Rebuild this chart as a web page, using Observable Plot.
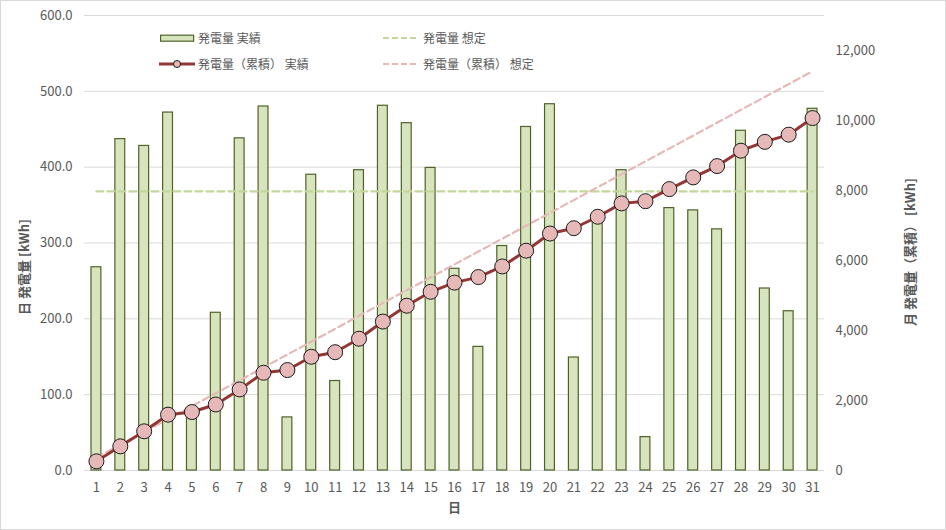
<!DOCTYPE html>
<html>
<head>
<meta charset="utf-8">
<script src="https://cdn.jsdelivr.net/npm/d3@7"></script>
<script src="https://cdn.jsdelivr.net/npm/@observablehq/plot@0.6"></script>
<style>
  body { margin: 0; background: #fff; }
  #wrap { position: relative; width: 946px; height: 530px; background: #fff; overflow: hidden; }
  #frame { position: absolute; left: 0; top: 0; width: 946px; height: 530px; box-sizing: border-box; border: 1px solid #d9d9d9; pointer-events: none; }
  .lg { position: absolute; font-family: "Noto Sans CJK JP", sans-serif; font-size: 12px; color: #595959; white-space: nowrap; line-height: 16px; }
  .lg svg { position: absolute; left: 0; top: 0; }
  .lg span { position: absolute; top: 0; }
</style>
</head>
<body>
<div id="wrap"><div id="frame"></div></div>
<script>
// ---- data ----
const days = [1,2,3,4,5,6,7,8,9,10,11,12,13,14,15,16,17,18,19,20,21,22,23,24,25,26,27,28,29,30,31];
const dailyActual = [268,437,428,472,72,208,438,480,70,390,118,396,481,458,399,266,163,296,453,483,149,334,396,44,346,343,318,448,240,210,477];
const cumulativeActual = [262,690,1120,1595,1670,1886,2316,2793,2870,3250,3380,3765,4255,4708,5105,5368,5526,5830,6280,6770,6922,7250,7632,7695,8040,8375,8698,9138,9390,9595,10070];
const dailyExpected = 368;
const cumExpectedDays = [1, 31];
const cumExpectedValues = [368, 11408];
const leftTicks = [0,100,200,300,400,500,600];
const rightTicks = [0,2000,4000,6000,8000,10000,12000];
const leftMax = 600, rightMax = 13000;
const ratio = leftMax / rightMax;

const dailyData = days.map((d, i) => ({day: d, value: dailyActual[i]}));
const cumData = days.map((d, i) => ({day: d, value: cumulativeActual[i]}));
const dailyExpData = [{day: days[0], value: dailyExpected}, {day: days[days.length - 1], value: dailyExpected}];
const cumExpData = cumExpectedDays.map((d, i) => ({day: d, value: cumExpectedValues[i]}));

const font = '"Noto Sans CJK JP", sans-serif';

const chart = Plot.plot({
  width: 946,
  height: 530,
  marginLeft: 84,
  marginRight: 122,
  marginTop: 15,
  marginBottom: 60,
  style: {fontFamily: font, fontSize: "13px", color: "#595959", background: "transparent", overflow: "visible"},
  x: {type: "linear", domain: [0.5, 31.5]},
  y: {domain: [0, leftMax]},
  marks: [
    Plot.ruleY(leftTicks, {stroke: "#d9d9d9", strokeWidth: 1}),
    Plot.rectY(dailyData, {
      x1: d => d.day - 0.5, x2: d => d.day + 0.5, y: "value",
      insetLeft: 7, insetRight: 7,
      fill: "#d7e4bd", stroke: "#4f6228", strokeWidth: 1.2
    }),
    Plot.line(dailyExpData, {x: "day", y: "value", stroke: "#c3d69b", strokeWidth: 2.2, strokeDasharray: "7,4"}),
    Plot.line(cumExpData, {x: "day", y: d => d.value * ratio, stroke: "#e6b9b8", strokeWidth: 2.2, strokeDasharray: "7,4"}),
    Plot.line(cumData, {x: "day", y: d => d.value * ratio, stroke: "#943634", strokeWidth: 3}),
    Plot.dot(cumData, {x: "day", y: d => d.value * ratio, r: 7.5, fill: "#e6b9b8", stroke: "#1a1a1a", strokeWidth: 1}),
    Plot.axisY(leftTicks, {anchor: "left", tickSize: 0, tickPadding: 12, tickFormat: d3.format(".1f"), label: null}),
    Plot.axisY(rightTicks.map(v => v * ratio), {anchor: "right", tickSize: 0, tickPadding: 11, tickFormat: v => d3.format(",")(Math.round(v / ratio)), label: null}),
    Plot.axisX(days, {anchor: "bottom", tickSize: 0, tickPadding: 12, tickFormat: d => String(d), label: null}),
    Plot.text(["日 発電量 [kWh]"], {frameAnchor: "left", textAnchor: "middle", rotate: -90, dx: -60, dy: 24, fontWeight: "bold", fontSize: 13, fill: "#595959"}),
    Plot.text(["月 発電量（累積） [kWh]"], {frameAnchor: "right", textAnchor: "middle", rotate: -90, dx: 86, dy: 9, fontWeight: "bold", fontSize: 13, fill: "#595959"}),
    Plot.text(["日"], {frameAnchor: "bottom", dy: 41, fontWeight: "bold", fontSize: 13, fill: "#595959"})
  ]
});

const wrap = document.getElementById("wrap");
wrap.insertBefore(chart, wrap.firstChild);

// ---- legend (inside plot area) ----
const legendItems = [
  {label: "発電量 実績", left: 160, top: 30, kind: "bar"},
  {label: "発電量 想定", left: 383, top: 30, kind: "dashGreen"},
  {label: "発電量（累積） 実績", left: 159, top: 56, kind: "lineDot"},
  {label: "発電量（累積） 想定", left: 383, top: 56, kind: "dashPink"}
];
for (const it of legendItems) {
  const div = document.createElement("div");
  div.className = "lg";
  div.style.left = it.left + "px";
  div.style.top = it.top + "px";
  div.style.width = "200px";
  div.style.height = "16px";
  let sw = "";
  let textLeft = 39;
  if (it.kind === "bar") {
    sw = '<svg width="36" height="16"><rect x="0.6" y="5.2" width="33" height="6" fill="#d7e4bd" stroke="#4f6228" stroke-width="1.2"/></svg>';
    textLeft = 38;
  } else if (it.kind === "dashGreen") {
    sw = '<svg width="36" height="16"><line x1="0" y1="8" x2="35" y2="8" stroke="#c3d69b" stroke-width="2.2" stroke-dasharray="6,3"/></svg>';
    textLeft = 40;
  } else if (it.kind === "dashPink") {
    sw = '<svg width="36" height="16"><line x1="0" y1="8" x2="35" y2="8" stroke="#e6b9b8" stroke-width="2.2" stroke-dasharray="6,3"/></svg>';
    textLeft = 40;
  } else {
    sw = '<svg width="37" height="16"><line x1="0" y1="8" x2="36" y2="8" stroke="#943634" stroke-width="3"/><circle cx="18" cy="8" r="3.5" fill="#e6b9b8" stroke="#1a1a1a" stroke-width="1"/></svg>';
    textLeft = 39;
  }
  div.innerHTML = sw + '<span style="left:' + textLeft + 'px">' + it.label + '</span>';
  wrap.appendChild(div);
}
</script>
</body>
</html>
